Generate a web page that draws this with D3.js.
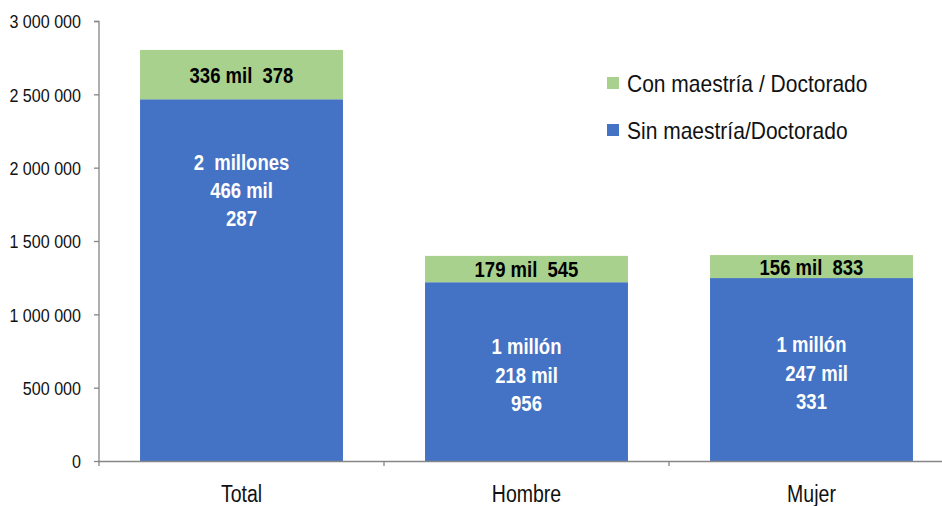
<!DOCTYPE html>
<html><head><meta charset="utf-8">
<script src="https://cdn.jsdelivr.net/npm/d3@7"></script>
<style>
body{margin:0;background:#fff}
text{font-family:"Liberation Sans",Arial,sans-serif;white-space:pre}
</style></head><body>
<svg id="c" width="942" height="506"></svg>
<script>
const categories = ["Total", "Hombre", "Mujer"];
const sinValues = [2466287, 1218956, 1247331];
const conValues = [336378, 179545, 156833];
const sinLabels = [["2  millones", "466 mil", "287"], ["1 millón", "218 mil", "956"], ["1 millón", "  247 mil", "331"]];
const conLabels = ["336 mil  378", "179 mil  545", "156 mil  833"];
const seriesNames = ["Con maestría / Doctorado", "Sin maestría/Doctorado"];
const yTicks = [0, 500000, 1000000, 1500000, 2000000, 2500000, 3000000];

const colors = {sin: "#4472C4", con: "#A9D18E"};
const svg = d3.select("#c");
const x = d3.scaleBand().domain(categories).range([99, 954]).paddingInner(0.288).paddingOuter(0.144);
const y = d3.scaleLinear().domain([0, 3000000]).range([461, 21]);

function squeeze(sel, k) {
  sel.each(function () {
    const L = this.getComputedTextLength();
    d3.select(this).attr("textLength", L * k).attr("lengthAdjust", "spacingAndGlyphs");
  });
}

// y axis
const ya = svg.append("g").attr("transform", "translate(99,0)")
  .call(d3.axisLeft(y).tickValues(yTicks).tickSize(5).tickPadding(13).tickFormat(v => d3.format(",")(v).replace(/,/g, " ")));
ya.select(".domain").attr("stroke", "#868686").attr("stroke-width", 1.3).attr("d", "M-5,21.5H0V461");
ya.selectAll(".tick line").attr("stroke", "#868686").attr("stroke-width", 1.3);
ya.selectAll(".tick text").attr("font-size", 18.5).attr("fill", "#111").attr("dy", "0.36em")
  .style("font-family", "'Liberation Sans',Arial,sans-serif").call(squeeze, 0.87);

// bars
const g = svg.append("g");
categories.forEach((c, i) => {
  const x0 = x(c), w = x.bandwidth();
  g.append("rect").attr("x", x0).attr("width", w)
    .attr("y", y(sinValues[i])).attr("height", y(0) - y(sinValues[i])).attr("fill", colors.sin);
  g.append("rect").attr("x", x0).attr("width", w)
    .attr("y", y(sinValues[i] + conValues[i])).attr("height", y(sinValues[i]) - y(sinValues[i] + conValues[i])).attr("fill", colors.con);
  const cx = x0 + w / 2;
  // con label
  const cy = (y(sinValues[i]) + y(sinValues[i] + conValues[i])) / 2;
  g.append("text").attr("x", cx).attr("y", cy + 8).attr("text-anchor", "middle")
    .attr("font-size", 21.5).attr("font-weight", "bold").attr("fill", "#000").text(conLabels[i]).call(squeeze, 0.86);
  // sin label
  let mid = y(sinValues[i] / 2);
  if (i === 0) mid = y(sinValues[i] * 0.757);
  sinLabels[i].forEach((t, k) => {
    g.append("text").attr("x", cx).attr("y", mid + 11 + (k - 1) * 28.3).attr("text-anchor", "middle")
      .attr("font-size", 21.5).attr("font-weight", "bold").attr("fill", "#fff").text(t).call(squeeze, 0.86);
  });
});

// x axis
const xa = svg.append("g").attr("transform", "translate(0,461)");
xa.append("line").attr("x1", 98).attr("x2", 942).attr("y1", 0.5).attr("y2", 0.5).attr("stroke", "#868686").attr("stroke-width", 1.3);
[0, 1, 2].forEach(k => {
  const b = x.range()[0] + k * x.step();
  xa.append("line").attr("x1", b).attr("x2", b).attr("y1", 0).attr("y2", 5).attr("stroke", "#868686").attr("stroke-width", 1.3);
});
categories.forEach(c => {
  xa.append("text").attr("x", x(c) + x.bandwidth() / 2).attr("y", 41).attr("text-anchor", "middle")
    .attr("font-size", 23.5).attr("fill", "#111").text(c).call(squeeze, 0.83);
});

// legend
const legend = svg.append("g");
[[colors.con, seriesNames[0], 77], [colors.sin, seriesNames[1], 124]].forEach(([col, name, ly]) => {
  legend.append("rect").attr("x", 607).attr("y", ly).attr("width", 12).attr("height", 12).attr("fill", col);
  legend.append("text").attr("x", 627).attr("y", ly + 15).attr("font-size", 24).attr("fill", "#111").text(name).call(squeeze, 0.875);
});
</script>
</body></html>
